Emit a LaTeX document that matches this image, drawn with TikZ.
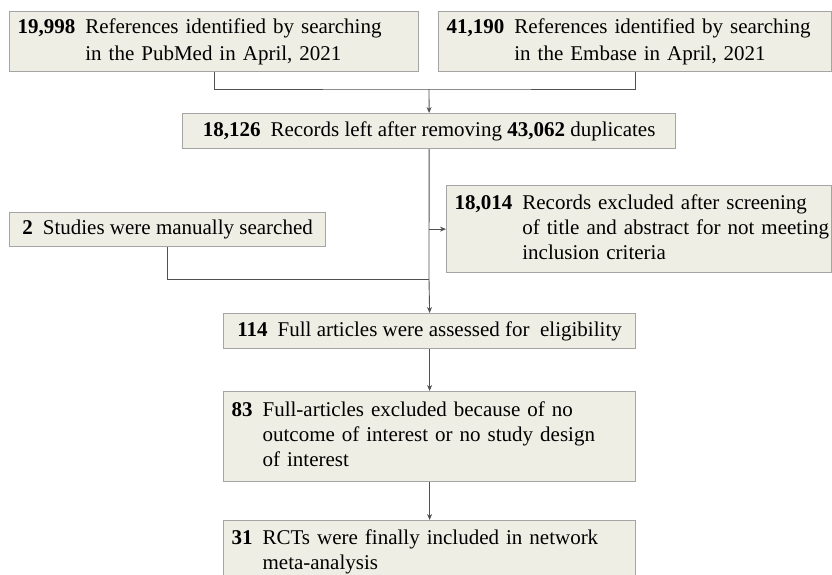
\documentclass[tikz,border=0pt]{standalone}
\usepackage{fontspec}
\setmainfont{Liberation Serif}
\usetikzlibrary{arrows.meta}
\definecolor{boxfill}{HTML}{EFEEE4}
\definecolor{boxline}{HTML}{A5A5A5}
\definecolor{linkline}{HTML}{505050}
\newlength{\numgap}
\setlength{\numgap}{10pt}
\newcommand\boxtext[2]
{
  \begin{tabular}{@{}l@{\hspace{\numgap}}l@{}}\textbf{#1} & #2\end{tabular}
}

\begin{document}
\begin{tikzpicture}[x=1pt,y=1pt]
  \tikzstyle{flowbox}=[
       draw=boxline,
       fill=boxfill,
       line width=1.2pt,
       inner xsep=8pt,
       inner ysep=0pt,
       anchor=north west,
       font=\fontsize{21}{25}\selectfont]
  \tikzstyle{link}=[draw=linkline, line width=0.9pt]
  \tikzstyle{linkarrow}=[link, -{Stealth[length=6pt,width=5pt]}]
  \useasboundingbox[fill=white] (0,0) rectangle (832,-574);
  \clip (0,0) rectangle (832,-574);
  % sources
  \node[flowbox, minimum width=409pt, minimum height=60pt, text width=393pt, align=left]
    (pubmed) at (9,-11)
    {\boxtext{19,998}{References identified by searching\\[2pt] & in the PubMed in April, 2021}};
  \node[flowbox, minimum width=393pt, minimum height=60pt, text width=377pt, align=left]
    (embase) at (438,-11)
    {\boxtext{41,190}{References identified by searching\\[2pt] & in the Embase in April, 2021}};
  \node[flowbox, minimum width=493pt, minimum height=35pt]
    (dedup) at (182,-113)
    {\textbf{18,126}\hspace{\numgap}Records left after removing \textbf{43,062} duplicates};
  % screening
  \node[flowbox, minimum width=316pt, minimum height=34pt]
    (manual) at (9,-212)
    {\textbf{2}\hspace{\numgap}Studies were manually searched};
  \node[flowbox, minimum width=385pt, minimum height=87pt, text width=369pt, align=left]
    (screen) at (446,-185)
    {\boxtext{18,014}{Records excluded after screening\\ & of title and abstract for not meeting\\ & inclusion criteria}};
  % eligibility
  \node[flowbox, minimum width=412pt, minimum height=35pt]
    (full) at (223,-313)
    {\textbf{114}\hspace{\numgap}Full articles were assessed for~ eligibility};
  \node[flowbox, minimum width=412pt, minimum height=90pt, text width=396pt, align=left]
    (notelig) at (223,-391)
    {\boxtext{83}{Full-articles excluded because of no\\ & outcome of interest or no study design\\ & of interest}};
  \node[flowbox, minimum width=412pt, minimum height=62pt, text width=396pt, align=left]
    (incl) at (223,-520)
    {\boxtext{31}{RCTs were finally included in network\\ & meta-analysis}};
  % connectors
  \coordinate (join1) at (429,-89);
  \coordinate (join2) at (429,-279);
  \draw[link] (pubmed.south) |- (join1) -| (embase.south);
  \draw[linkarrow] (join1) -- (dedup.north);
  \draw[link] (dedup.south) -- (join2);
  \draw[linkarrow] (dedup.south |- screen.west) -- (screen.west);
  \draw[link] (manual.south) |- (join2);
  \draw[linkarrow] (join2) -- (full.north);
  \draw[linkarrow] (full.south) -- (notelig.north);
  \draw[linkarrow] (notelig.south) -- (incl.north);
\end{tikzpicture}
\end{document}
